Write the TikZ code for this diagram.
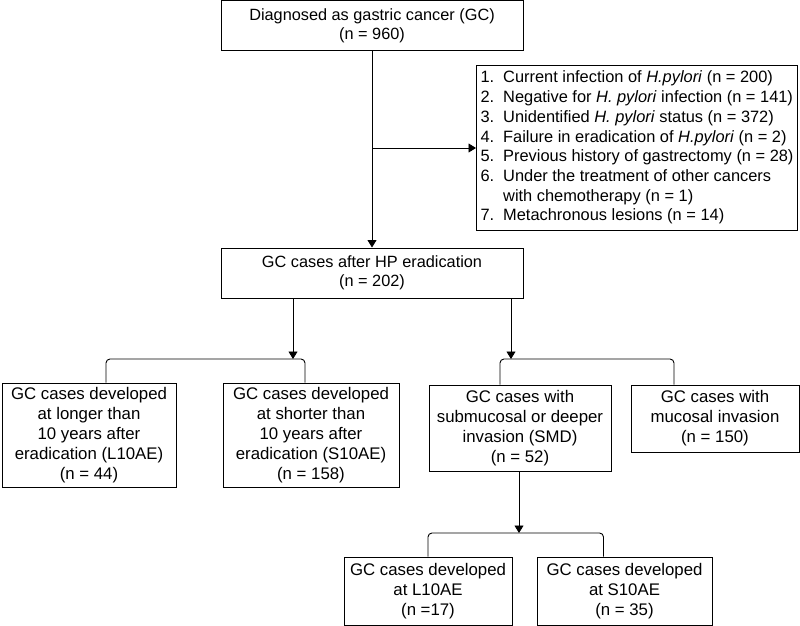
\documentclass[tikz,border=0pt]{standalone}
\usepackage{fontspec}
\setmainfont{Liberation Sans}
\usepackage{tikz}
\usetikzlibrary{arrows.meta,positioning,calc}

\begin{document}
\begin{tikzpicture}[x=1pt, y=-1pt, >={Triangle[width=9pt,length=7.5pt]}, line width=0.9pt, font=\fontsize{16.8}{20}\selectfont]
\tikzstyle{box}=[draw=black,line width=1pt,fill=white,align=center,inner sep=0pt]
\tikzstyle{top}=[box,minimum width=302,minimum height=50,font=\fontsize{16.3}{19}\selectfont]
\tikzstyle{fork}=[rounded corners=4pt]
\useasboundingbox (0,0) rectangle (800,626);
\node[top]    (diag) at (372,26)   {Diagnosed as gastric cancer (GC)\\(n = 960)};
\node[box,minimum width=321,minimum height=164,anchor=west,font=\fontsize{16.4}{19.7}\selectfont] (excl) at (476,148) {%
\begin{tabular}{@{}l@{\hspace{9pt}}l@{}}
1. & Current infection of \textit{H.pylori} (n = 200)\\
2. & Negative for \textit{H. pylori} infection (n = 141)\\
3. & Unidentified \textit{H. pylori} status (n = 372)\\
4. & Failure in eradication of \textit{H.pylori} (n = 2)\\
5. & Previous history of gastrectomy (n = 28)\\
6. & Under the treatment of other cancers\\
   & with chemotherapy (n = 1)\\
7. & Metachronous lesions (n = 14)
\end{tabular}};
\node[top]    (hp)   at (372,273)  {GC cases after HP eradication\\(n = 202)};
\node[box,minimum width=174,minimum height=104]   (l10)  at (89,435)   {GC cases developed\\at longer than\\10 years after\\eradication (L10AE)\\(n = 44)};
\node[box,minimum width=176,minimum height=104]   (s10)  at (311,435)  {GC cases developed\\at shorter than\\10 years after\\eradication (S10AE)\\(n = 158)};
\node[box,minimum width=182,minimum height=86]    (smd)  at (520,428)  {GC cases with\\submucosal or deeper\\invasion (SMD)\\(n = 52)};
\node[box,minimum width=168,minimum height=67]    (muc)  at (715,418.5) {GC cases with\\mucosal invasion\\(n = 150)};
\node[box,minimum width=168,minimum height=68]    (smdl) at (428,591)  {GC cases developed\\at L10AE\\(n =17)};
\node[box,minimum width=175,minimum height=68]    (smds) at (624.5,591) {GC cases developed\\at S10AE\\(n = 35)};

\coordinate (br)    at (diag.south |- excl.west);
\coordinate (forkL) at (293,359);
\coordinate (forkR) at (511,359);
\coordinate (forkS) at (519,533);

\draw[->] (diag) -- (hp);
\draw[->] (br) -- (excl);

\draw[->] (hp.south -| forkL) -- (forkL);
\draw[fork] ([xshift=17pt]l10.north) |- (forkL) -| ([xshift=-6pt]s10.north);

\draw[->] (hp.south -| forkR) -- (forkR);
\draw[fork] ([xshift=-20pt]smd.north) |- (forkR) -| ([xshift=-41pt]muc.north);

\draw[->] (smd.south -| forkS) -- (forkS);
\draw[fork] (smdl.north) |- (forkS) -| ([xshift=-21pt]smds.north);
\end{tikzpicture}
\end{document}
